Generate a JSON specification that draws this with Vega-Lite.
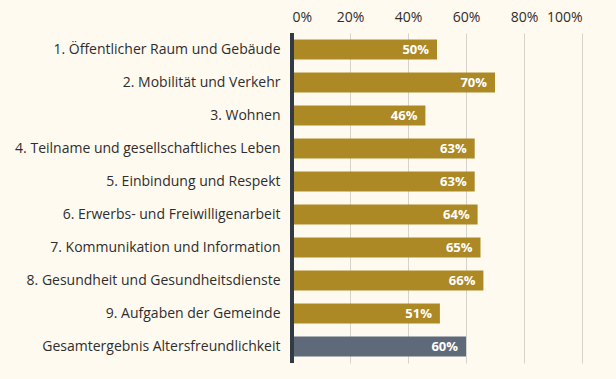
{
  "$schema": "https://vega.github.io/schema/vega-lite/v6.json",
  "width": 290,
  "height": 330,
  "autosize": "none",
  "padding": {"left": 292, "top": 33, "right": 34, "bottom": 16},
  "background": "#fefaf0",
  "data": {"values": [
    {"k": "1. Öffentlicher Raum und Gebäude", "v": 50, "lbl": "50%", "g": "a"},
    {"k": "2. Mobilität und Verkehr", "v": 70, "lbl": "70%", "g": "a"},
    {"k": "3. Wohnen", "v": 46, "lbl": "46%", "g": "a"},
    {"k": "4. Teilname und gesellschaftliches Leben", "v": 63, "lbl": "63%", "g": "a"},
    {"k": "5. Einbindung und Respekt", "v": 63, "lbl": "63%", "g": "a"},
    {"k": "6. Erwerbs- und Freiwilligenarbeit", "v": 64, "lbl": "64%", "g": "a"},
    {"k": "7. Kommunikation und Information", "v": 65, "lbl": "65%", "g": "a"},
    {"k": "8. Gesundheit und Gesundheitsdienste", "v": 66, "lbl": "66%", "g": "a"},
    {"k": "9. Aufgaben der Gemeinde", "v": 51, "lbl": "51%", "g": "a"},
    {"k": "Gesamtergebnis Altersfreundlichkeit", "v": 60, "lbl": "60%", "g": "b"}
  ]},
  "config": {
    "view": {"stroke": null},
    "font": "Open Sans",
    "axis": {"labelFont": "Open Sans", "labelColor": "#2e2e2e", "labelFontSize": 14}
  },
  "encoding": {
    "y": {"field": "k", "type": "nominal", "sort": null, "title": null,
      "scale": {"paddingInner": 0.4, "paddingOuter": 0.2},
      "axis": {"ticks": false, "domain": false, "labelPadding": 12, "labelLimit": 300}},
    "x": {"field": "v", "type": "quantitative", "title": null,
      "scale": {"domain": [0, 100]},
      "axis": {"orient": "top", "values": [0, 20, 40, 60, 80, 100], "labelExpr": "datum.value + '%'", "ticks": false, "domain": false, "gridColor": "#d6d3cc", "gridWidth": 1, "labelPadding": 9}}
  },
  "layer": [
    {"mark": {"type": "bar"},
     "encoding": {"color": {"field": "g", "type": "nominal", "legend": null,
       "scale": {"domain": ["a", "b"], "range": ["#ad8926", "#5e6a7a"]}}}},
    {"mark": {"type": "text", "align": "right", "dx": -8, "color": "white", "fontWeight": "bold", "fontSize": 13, "baseline": "middle"},
     "encoding": {"text": {"field": "lbl", "type": "nominal"}}},
    {"mark": {"type": "rule", "color": "#333a44", "strokeWidth": 3},
     "encoding": {"x": {"datum": 0}, "y": null}}
  ]
}
